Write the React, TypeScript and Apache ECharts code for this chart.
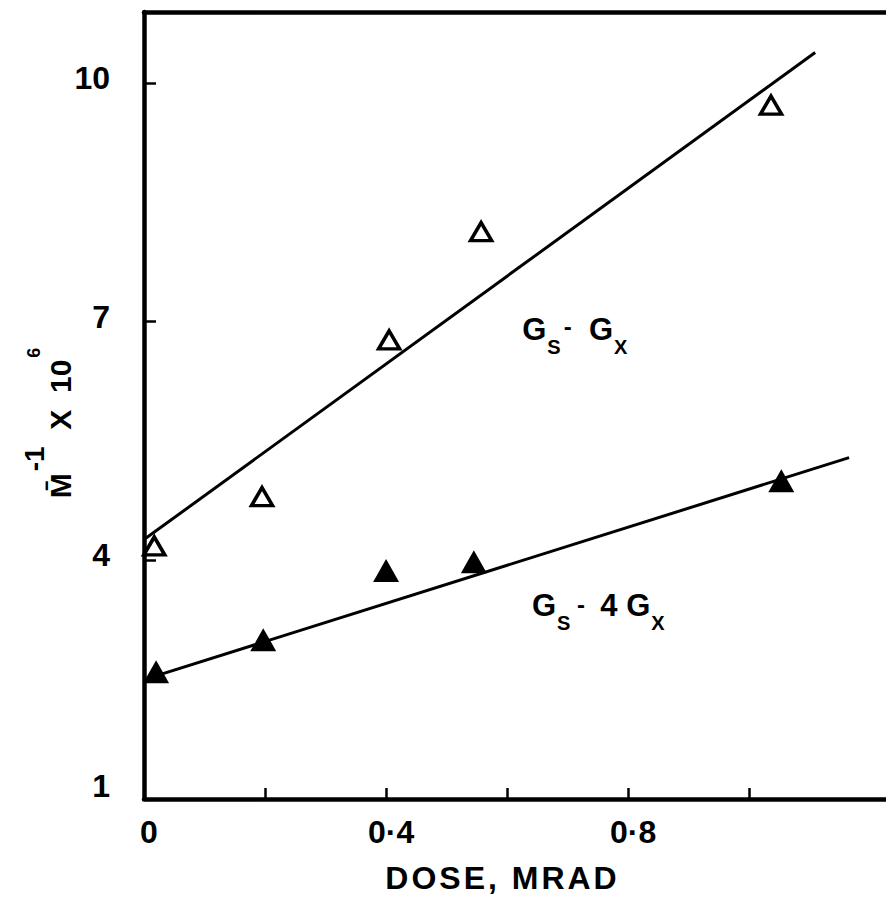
import React, { useEffect, useRef } from "react";
import * as echarts from "echarts";

// Open triangles: Gs - Gx
const openDose = [0.017, 0.195, 0.405, 0.557, 1.036];
const openInvM = [4.18, 4.8, 6.77, 8.13, 9.72];
// Filled triangles: Gs - 4Gx
const filledDose = [0.02, 0.197, 0.4, 0.545, 1.053];
const filledInvM = [2.6, 3.0, 3.87, 3.98, 5.0];
// Fitted straight lines (end points)
const fitOpenDose = [0, 1.109];
const fitOpenInvM = [4.26, 10.38];
const fitFilledDose = [0, 1.165];
const fitFilledInvM = [2.5, 5.29];
// Axes
const xTickValues = [0, 0.2, 0.4, 0.6, 0.8, 1.0];
const xLabelValues = [0, 0.4, 0.8];
const yTickValues = [1, 4, 7, 10];
const xMin = 0;
const xMax = 1.226;
const yMin = 1;
const yMax = 10.89;
// Line labels (anchor in data coordinates)
const labelDose = [0.625, 0.641];
const labelInvM = [6.89, 3.43];
const labelTexts = [
  "{g|G}{s|S}{d|-}{g|  G}{s|X}",
  "{g|G}{s|S}{d2| - }{g| 4 G}{s|X}",
];
const xTitle = "DOSE, MRAD";

const FONT = "Liberation Sans, Arial, Helvetica, sans-serif";

const bold = (size: number, extra: Record<string, unknown> = {}) => ({
  fontSize: size,
  fontWeight: "bold",
  fontFamily: FONT,
  color: "#000",
  ...extra,
});

export default function App() {
  const ref = useRef<HTMLDivElement>(null);

  useEffect(() => {
    if (!ref.current) return;
    const chart = echarts.init(ref.current, null, { renderer: "svg" });

    const pairs = (xs: number[], ys: number[]) => xs.map((x, i) => [x, ys[i]]);

    const xTitleRich = xTitle
      .split("")
      .map((ch) => `{c|${ch}}`)
      .join("");

    chart.setOption({
      animation: false,
      backgroundColor: "#ffffff",
      textStyle: { fontFamily: FONT, fontWeight: "bold", color: "#000" },
      grid: {
        left: 144,
        right: 0,
        top: 12,
        bottom: 104,
        containLabel: false,
        outerBoundsMode: "none",
      },
      xAxis: [
        {
          type: "value",
          min: xMin,
          max: xMax,
          position: "bottom",
          splitLine: { show: false },
          axisLine: { show: true, onZero: false, lineStyle: { color: "#000", width: 4.5 } },
          axisTick: {
            show: true,
            inside: true,
            length: 11,
            customValues: xTickValues,
            lineStyle: { color: "#000", width: 2.5 },
          },
          axisLabel: {
            show: true,
            customValues: xLabelValues,
            margin: 17,
            ...bold(32),
            formatter: (v: number) => `{n|${String(v).replace(".", "·")}}`,
            rich: {
              n: bold(32, { padding: [0, 0, 0, 10] }),
            },
          },
        },
        {
          type: "value",
          min: xMin,
          max: xMax,
          position: "top",
          splitLine: { show: false },
          axisLine: { show: true, onZero: false, lineStyle: { color: "#000", width: 4.5 } },
          axisTick: { show: false },
          axisLabel: { show: false },
        },
      ],
      yAxis: {
        type: "value",
        min: yMin,
        max: yMax,
        splitLine: { show: false },
        axisLine: { show: true, onZero: false, lineStyle: { color: "#000", width: 4.5 } },
        axisTick: {
          show: true,
          inside: true,
          length: 12,
          customValues: yTickValues,
          lineStyle: { color: "#000", width: 2.5 },
        },
        axisLabel: {
          show: true,
          customValues: yTickValues,
          margin: 34,
          ...bold(32),
          formatter: (v: number) => (v === yMin ? `{low|${v}}` : `{n|${v}}`),
          rich: {
            n: bold(32, { padding: [0, 0, 10, 0] }),
            low: bold(32, { padding: [0, 0, 26, 0] }),
          },
        },
      },
      series: [
        {
          type: "line",
          data: pairs(fitOpenDose, fitOpenInvM),
          symbol: "none",
          showSymbol: false,
          silent: true,
          lineStyle: { color: "#000", width: 3 },
          z: 1,
        },
        {
          type: "line",
          data: pairs(fitFilledDose, fitFilledInvM),
          symbol: "none",
          showSymbol: false,
          silent: true,
          lineStyle: { color: "#000", width: 3 },
          z: 1,
        },
        {
          type: "scatter",
          data: pairs(openDose, openInvM),
          symbol: "triangle",
          symbolSize: [21, 18],
          silent: true,
          itemStyle: { color: "#fff", borderColor: "#000", borderWidth: 3.5, opacity: 1 },
          z: 3,
        },
        {
          type: "scatter",
          data: pairs(filledDose, filledInvM),
          symbol: "triangle",
          symbolSize: [26, 23],
          silent: true,
          itemStyle: { color: "#000", borderColor: "#000", borderWidth: 0, opacity: 1 },
          z: 3,
        },
        {
          type: "scatter",
          symbolSize: 0,
          silent: true,
          itemStyle: { color: "#000", opacity: 1 },
          data: labelDose.map((x, i) => ({
            value: [x, labelInvM[i]],
            label: { formatter: labelTexts[i] },
          })),
          label: {
            show: true,
            position: "right",
            distance: 0,
            opacity: 1,
            ...bold(31),
            textBorderWidth: 0,
            rich: {
              g: bold(31, { lineHeight: 32, verticalAlign: "top" }),
              s: bold(20, { lineHeight: 20, padding: [23, 0, 0, 1], verticalAlign: "top" }),
              d: bold(24, { lineHeight: 22, padding: [0, 0, 0, 3], verticalAlign: "top" }),
              d2: bold(24, { lineHeight: 24, padding: [3, 0, 0, 0], verticalAlign: "top" }),
            },
          },
          z: 4,
        },
      ],
      graphic: [
        {
          type: "text",
          x: 35.5,
          y: 423,
          rotation: Math.PI / 2,
          silent: true,
          style: {
            text: "{m|M\u0304}{p|-1}{m|  X  10}{q|6}",
            align: "center",
            verticalAlign: "middle",
            fill: "#000",
            fontFamily: FONT,
            fontWeight: "bold",
            rich: {
              m: bold(30, { fill: "#000", lineHeight: 30, padding: [25, 0, 0, 0], verticalAlign: "top" }),
              p: bold(28, { fill: "#000", lineHeight: 28, padding: [0, 0, 0, 2], verticalAlign: "top" }),
              q: bold(18, { fill: "#000", lineHeight: 18, padding: [4.5, 0, 0, 2], verticalAlign: "top" }),
            },
          },
        },
        {
          type: "text",
          x: 501,
          y: 878,
          silent: true,
          style: {
            text: xTitleRich,
            align: "center",
            verticalAlign: "middle",
            fill: "#000",
            fontFamily: FONT,
            fontWeight: "bold",
            rich: {
              c: bold(32, { fill: "#000", padding: [0, 1.5, 0, 1.5] }),
            },
          },
        },
      ],
    });

    return () => {
      chart.dispose();
    };
  }, []);

  return (
    <div
      ref={ref}
      style={{
        position: "absolute",
        left: 0,
        top: 0,
        width: 886,
        height: 903,
        background: "#fff",
      }}
    />
  );
}
